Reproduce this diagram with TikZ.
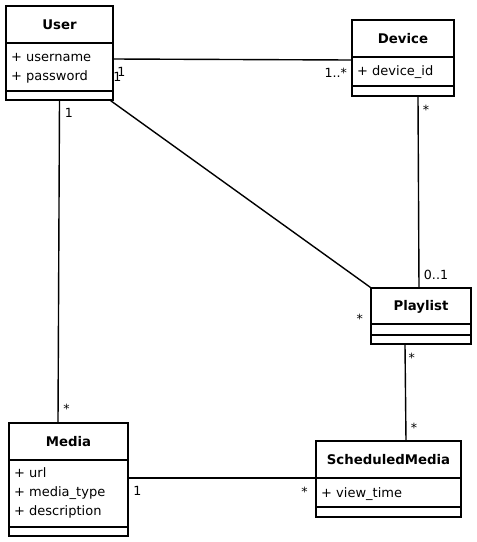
\documentclass[tikz,border=0pt]{standalone}
\usepackage{fontspec}
\setmainfont{DejaVu Sans}
\begin{document}
\begin{tikzpicture}[x=1pt,y=-1pt,
  classbox/.style={draw, line width=1.4pt, inner sep=0pt, fill=white},
  divider/.style={line width=1.4pt},
  title/.style={font=\fontsize{13.3}{15}\selectfont\bfseries, inner sep=0pt, anchor=base},
  attr/.style={font=\fontsize{13}{15}\selectfont, inner sep=0pt, anchor=base west},
  mult/.style={font=\fontsize{12.6}{14}\selectfont, inner sep=0pt, anchor=base},
  conn/.style={line width=1.4pt}]
\useasboundingbox (0,0) rectangle (477,542);

% User
\node[classbox, minimum width=107pt, minimum height=94pt] (user) at (59.5,53) {};
\draw[divider] (user.west |- 0,43) -- (user.east |- 0,43);
\draw[divider] (user.west |- 0,91) -- (user.east |- 0,91);
\node[title] (userT) at (59.5,29.5) {User};
\node[attr] (userA1) at (11,61.5) {+ username};
\node[attr] (userA2) at (11,80) {+ password};

% Device
\node[classbox, minimum width=102pt, minimum height=76pt] (device) at (403,58) {};
\draw[divider] (device.west |- 0,57) -- (device.east |- 0,57);
\draw[divider] (device.west |- 0,86) -- (device.east |- 0,86);
\node[title] (deviceT) at (403,43.2) {Device};
\node[attr] (deviceA1) at (357,75) {+ device\_id};

% Playlist
\node[classbox, minimum width=100pt, minimum height=56pt] (playlist) at (421,316) {};
\draw[divider] (playlist.west |- 0,324) -- (playlist.east |- 0,324);
\draw[divider] (playlist.west |- 0,335) -- (playlist.east |- 0,335);
\node[title] (playlistT) at (421,310.9) {Playlist};

% Media
\node[classbox, minimum width=119pt, minimum height=113pt] (media) at (68.5,479.5) {};
\draw[divider] (media.west |- 0,460) -- (media.east |- 0,460);
\draw[divider] (media.west |- 0,527) -- (media.east |- 0,527);
\node[title] (mediaT) at (68.5,446.4) {Media};
\node[attr] (mediaA1) at (14,477.5) {+ url};
\node[attr] (mediaA2) at (14,496.5) {+ media\_type};
\node[attr] (mediaA3) at (14,515.3) {+ description};

% ScheduledMedia
\node[classbox, minimum width=145pt, minimum height=76pt] (sched) at (388.5,479) {};
\draw[divider] (sched.west |- 0,478) -- (sched.east |- 0,478);
\draw[divider] (sched.west |- 0,507) -- (sched.east |- 0,507);
\node[title] (schedT) at (388.5,464.4) {ScheduledMedia};
\node[attr] (schedA1) at (321,497) {+ view\_time};

% Connectors
\draw[conn] ([yshift=-6pt]user.east) -- ([yshift=-2pt]device.west);
\draw[conn] ([xshift=-3pt]user.south east) -- (playlist.north west);
\draw[conn] (user.south) -- ([xshift=-10.5pt]media.north);
\draw[conn] ([xshift=15pt]device.south) -- ([xshift=-2pt]playlist.north);
\draw[conn] ([xshift=-16pt]playlist.south) -- ([xshift=17.5pt]sched.north);
\draw[conn] ([yshift=1.5pt]media.east) -- ([yshift=1pt]sched.west);

% Multiplicities
\node[mult] (m1) at (121.5,76) {1};
\node[mult] (m2) at (117.5,81.4) {1};
\node[mult] (m3) at (335.8,77.2) {1..*};
\node[mult] (m4) at (69,117.7) {1};
\node[mult] (m5) at (426,114) {*};
\node[mult] (m6) at (436,279) {0..1};
\node[mult] (m7) at (359.7,323.4) {*};
\node[mult] (m8) at (411.7,362.4) {*};
\node[mult] (m9) at (66.5,413) {*};
\node[mult] (m10) at (414,432.4) {*};
\node[mult] (m11) at (137.5,495.2) {1};
\node[mult] (m12) at (304.5,496) {*};
\end{tikzpicture}
\end{document}
